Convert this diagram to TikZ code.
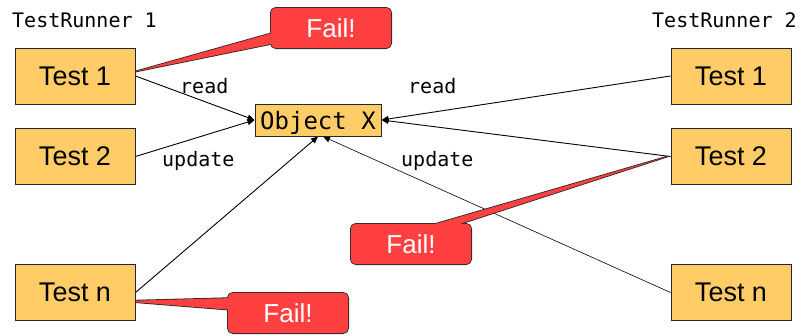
\documentclass[tikz,border=0pt]{standalone}
\usepackage{fontspec}
\setmainfont{Liberation Sans}
\newfontfamily\monof{DejaVu Sans Mono}
\usetikzlibrary{arrows.meta}
\definecolor{boxyellow}{RGB}{255,204,102}
\definecolor{failred}{RGB}{255,64,64}
\pgfdeclarelayer{bg}
\pgfdeclarelayer{mid}
\pgfsetlayers{bg,mid,main}
\begin{document}
\begin{tikzpicture}[x=1pt,y=-1pt,
  testbox/.style={draw=black!85, line width=1pt, fill=boxyellow, minimum width=120pt, minimum height=56pt, inner sep=0pt, text depth=0pt, font=\fontsize{27}{30}\selectfont},
  objbox/.style={draw=black!85, line width=1pt, fill=boxyellow, minimum width=126pt, minimum height=32pt, inner sep=0pt, text depth=0pt, font=\monof\fontsize{24}{28}\selectfont},
  failtext/.style={minimum width=120pt, minimum height=40pt, inner sep=0pt, text depth=0pt, text=white, font=\fontsize{26}{30}\selectfont},
  failline/.style={draw=black!85, line width=1.6pt},
  lbl/.style={inner sep=0pt, anchor=base west, font=\monof\fontsize{20}{24}\selectfont},
  arr/.style={-{Triangle[length=7pt,width=6pt]}, line width=0.9pt},
  thinarr/.style={-{Triangle[length=7pt,width=6pt]}, line width=0.6pt}]
\useasboundingbox (0,0) rectangle (801,335);

% runner labels
\node[lbl] (tr1) at (12,27) {TestRunner 1};
\node[lbl] (tr2) at (652,27) {TestRunner 2};

% test boxes
\node[testbox] (lt1) at (75,76) {Test 1};
\node[testbox] (lt2) at (75,156.5) {Test 2};
\node[testbox] (ltn) at (75,292.5) {Test n};
\node[testbox] (rt1) at (731,76) {Test 1};
\node[testbox] (rt2) at (731,156.5) {Test 2};
\node[testbox] (rtn) at (731,292.5) {Test n};

% shared object
\node[objbox] (obj) at (318,120) {Object X};

% edge labels
\node[lbl] (rd1) at (180,93) {read};
\node[lbl] (rd2) at (408,93) {read};
\node[lbl] (up1) at (162,166) {update};
\node[lbl] (up2) at (401,166) {update};

% fail labels (text only; shapes on mid layer)
\node[failtext] (f1) at (331,28) {Fail!};
\node[failtext] (f2) at (411,244) {Fail!};
\node[failtext] (f3) at (288,313) {Fail!};

\begin{pgfonlayer}{bg}
\draw[arr] (lt1.east) -- (obj.west);
\draw[arr] (lt2.east) -- (obj.west);
\draw[arr] (ltn.east) -- (obj.south);
\draw[arr] (rt1.west) -- (obj.east);
\draw[arr] (rt2.west) -- (obj.east);
\draw[thinarr] (rtn.west) -- ([xshift=5pt]obj.south);
\end{pgfonlayer}

\begin{pgfonlayer}{mid}
% outlines
\draw[failline] ([xshift=-2pt,yshift=4pt]lt1.east) -- ([xshift=5pt,yshift=-4pt]f1.west) -- ([xshift=5pt,yshift=-15pt]f1.west) -- cycle;
\draw[failline, rounded corners=5pt] (f1.south west) rectangle (f1.north east);
\draw[failline] ([xshift=-3pt]rt2.west) -- ([xshift=11pt,yshift=-4pt]f2.north) -- ([xshift=37pt,yshift=-4pt]f2.north) -- cycle;
\draw[failline, rounded corners=5pt] (f2.south west) rectangle (f2.north east);
\draw[failline] ([xshift=-15pt,yshift=-8.5pt]ltn.east) -- ([xshift=5pt,yshift=15pt]f3.west) -- ([xshift=5pt,yshift=3pt]f3.west) -- cycle;
\draw[failline, rounded corners=5pt] (f3.south west) rectangle (f3.north east);
% fills
\fill[failred] ([xshift=-2pt,yshift=4pt]lt1.east) -- ([xshift=5pt,yshift=-4pt]f1.west) -- ([xshift=5pt,yshift=-15pt]f1.west) -- cycle;
\fill[failred, rounded corners=5pt] (f1.south west) rectangle (f1.north east);
\fill[failred] ([xshift=-3pt]rt2.west) -- ([xshift=11pt,yshift=-4pt]f2.north) -- ([xshift=37pt,yshift=-4pt]f2.north) -- cycle;
\fill[failred, rounded corners=5pt] (f2.south west) rectangle (f2.north east);
\fill[failred] ([xshift=-15pt,yshift=-8.5pt]ltn.east) -- ([xshift=5pt,yshift=15pt]f3.west) -- ([xshift=5pt,yshift=3pt]f3.west) -- cycle;
\fill[failred, rounded corners=5pt] (f3.south west) rectangle (f3.north east);
\end{pgfonlayer}
\end{tikzpicture}
\end{document}
